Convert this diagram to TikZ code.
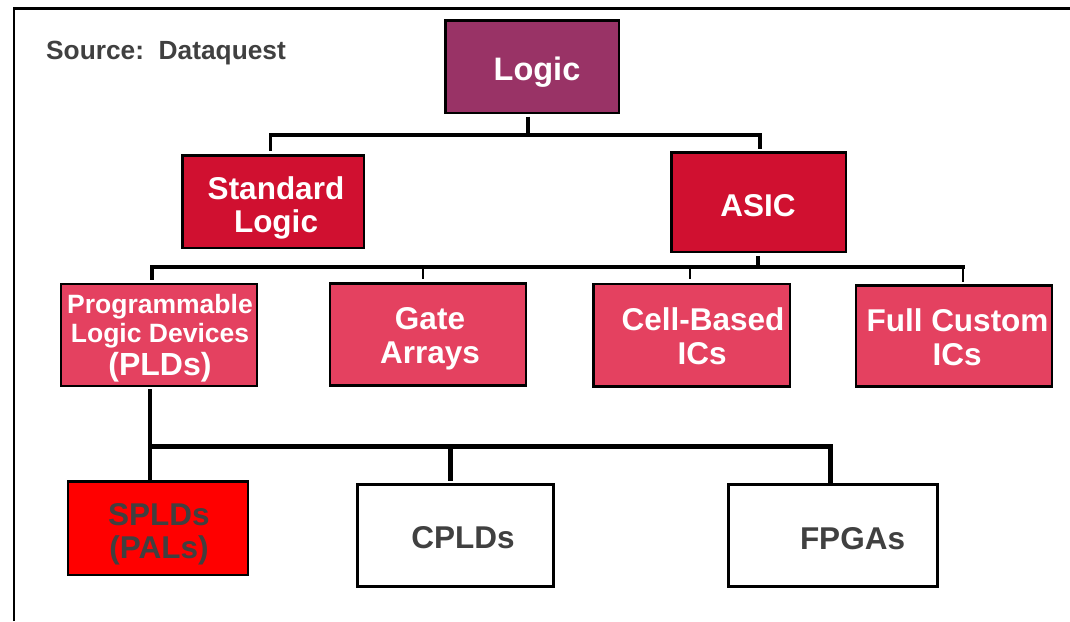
\documentclass[tikz,border=0pt]{standalone}
\usepackage{fontspec}
\setmainfont{Liberation Sans}
\definecolor{plum}{HTML}{993366}
\definecolor{crimson}{HTML}{D01030}
\definecolor{rose}{HTML}{E44160}
\definecolor{pure}{HTML}{FF0000}
\definecolor{tgray}{HTML}{404040}
\begin{document}
\begin{tikzpicture}[x=1pt,y=-1pt,
  box/.style={draw=black, line width=2.5pt, inner sep=0pt},
  txt/.style={anchor=base, inner sep=0pt, text=white, font=\bfseries\fontsize{31.5}{34}\selectfont},
  small/.style={anchor=base, inner sep=0pt, text=white, font=\bfseries\fontsize{26.5}{29}\selectfont},
  dark/.style={text=tgray},
  bar/.style={line width=4.5pt, line cap=rect},
  thickstub/.style={line width=4pt},
  thinstub/.style={line width=2.2pt}]
\useasboundingbox (0,0) rectangle (1070,621);
\fill[white] (0,0) rectangle (1070,621);
% frame
\coordinate (fbl) at (13.8,621);
\coordinate (ftl) at (13.8,8.5);
\coordinate (ftr) at (1070,8.5);
\draw[line width=2.2pt] (fbl) -- (ftl) -- (ftr);

% source
\node[anchor=base west, inner sep=0pt, text=tgray, font=\bfseries\fontsize{26.3}{30}\selectfont] (src) at (46,59.3) {Source:\ \ Dataquest};

% boxes
\node[box, fill=plum, minimum width=173.5pt, minimum height=92.5pt] (logic) at (532,66.5) {};
\node[box, fill=crimson, minimum width=181.5pt, minimum height=92.5pt] (std) at (273,201.5) {};
\node[box, fill=crimson, minimum width=174.5pt, minimum height=99.5pt] (asic) at (758.5,202) {};
\node[box, fill=rose, minimum width=196pt, minimum height=101.8pt] (pld) at (159,334.9) {};
\node[box, fill=rose, minimum width=196pt, minimum height=102.2pt] (gate) at (428.2,334.4) {};
\node[box, fill=rose, minimum width=196.5pt, minimum height=102.5pt] (cell) at (691.5,335.2) {};
\node[box, fill=rose, minimum width=196pt, minimum height=101.2pt] (full) at (954.2,335.9) {};
\node[box, fill=pure, minimum width=180pt, minimum height=93.5pt] (spld) at (157.8,528) {};
\node[box, fill=white, minimum width=196pt, minimum height=102pt] (cpld) at (455.6,535.5) {};
\node[box, fill=white, minimum width=209pt, minimum height=102.2pt] (fpga) at (833.2,535.4) {};

% texts
\node[txt, font=\bfseries\fontsize{32.5}{34}\selectfont] (logic-t) at (537,80) {Logic};
\node[txt] (std-t1) at (276,199) {Standard};
\node[txt] (std-t2) at (276,232) {Logic};
\node[txt] (asic-t) at (758,216) {ASIC};
\node[small] (pld-t1) at (160,313.3) {Programmable};
\node[small] (pld-t2) at (160,342.7) {Logic Devices};
\node[txt, font=\bfseries\fontsize{32}{34}\selectfont] (pld-t3) at (160,375) {(PLDs)};
\node[txt] (gate-t1) at (430,329) {Gate};
\node[txt] (gate-t2) at (430,363.3) {Arrays};
\node[txt] (cell-t1) at (703,330) {Cell-Based};
\node[txt] (cell-t2) at (702,364) {ICs};
\node[txt] (full-t1) at (957.5,331) {Full Custom};
\node[txt] (full-t2) at (957,365) {ICs};
\node[txt, dark] (spld-t1) at (158.8,525.7) {SPLDs};
\node[txt, dark] (spld-t2) at (159,558.3) {(PALs)};
\node[txt, dark] (cpld-t) at (463,548.3) {CPLDs};
\node[txt, dark] (fpga-t) at (852.5,549) {FPGAs};

% level 1 connectors
\coordinate (l1top) at (528,116.5);
\coordinate (l1j) at (528,134.7);
\coordinate (l1L) at (270.5,134.7);
\coordinate (l1R) at (760,134.7);
\coordinate (l1Lend) at (270.5,150.7);
\coordinate (l1Rend) at (760,148.5);
\draw[thickstub] (l1top) -- (l1j);
\draw[line width=4pt, line cap=rect] (l1L) -- (l1R);
\draw[thinstub] (l1L) -- (l1Lend);
\draw[thickstub] (l1R) -- (l1Rend);

% level 2 connectors
\coordinate (l2top) at (758,256);
\coordinate (l2j) at (758,267);
\coordinate (l2L) at (152,267);
\coordinate (l2R) at (963,267);
\coordinate (l2a) at (423,267);
\coordinate (l2b) at (690,267);
\draw[thickstub] (l2top) -- (l2j);
\draw[bar] (l2L) -- (l2R);
\draw[thickstub] (l2L) -- (152,279.5);
\draw[thinstub] (l2a) -- (423,278.5);
\draw[thinstub] (l2b) -- (690,279);
\draw[line width=2.6pt] (l2R) -- (963,281.5);

% level 3 connectors
\coordinate (l3top) at (150,389);
\coordinate (l3L) at (150,446);
\coordinate (l3bot) at (150,479.5);
\coordinate (l3a) at (450,446);
\coordinate (l3R) at (830.6,446);
\draw[line width=4.5pt] (l3top) -- (l3bot);
\draw[line width=5pt] (l3L) -- (l3R);
\draw[line width=5pt] (l3a) -- (450,481);
\draw[line width=5pt, line cap=rect] (l3R) -- (830.6,481);
\end{tikzpicture}
\end{document}
